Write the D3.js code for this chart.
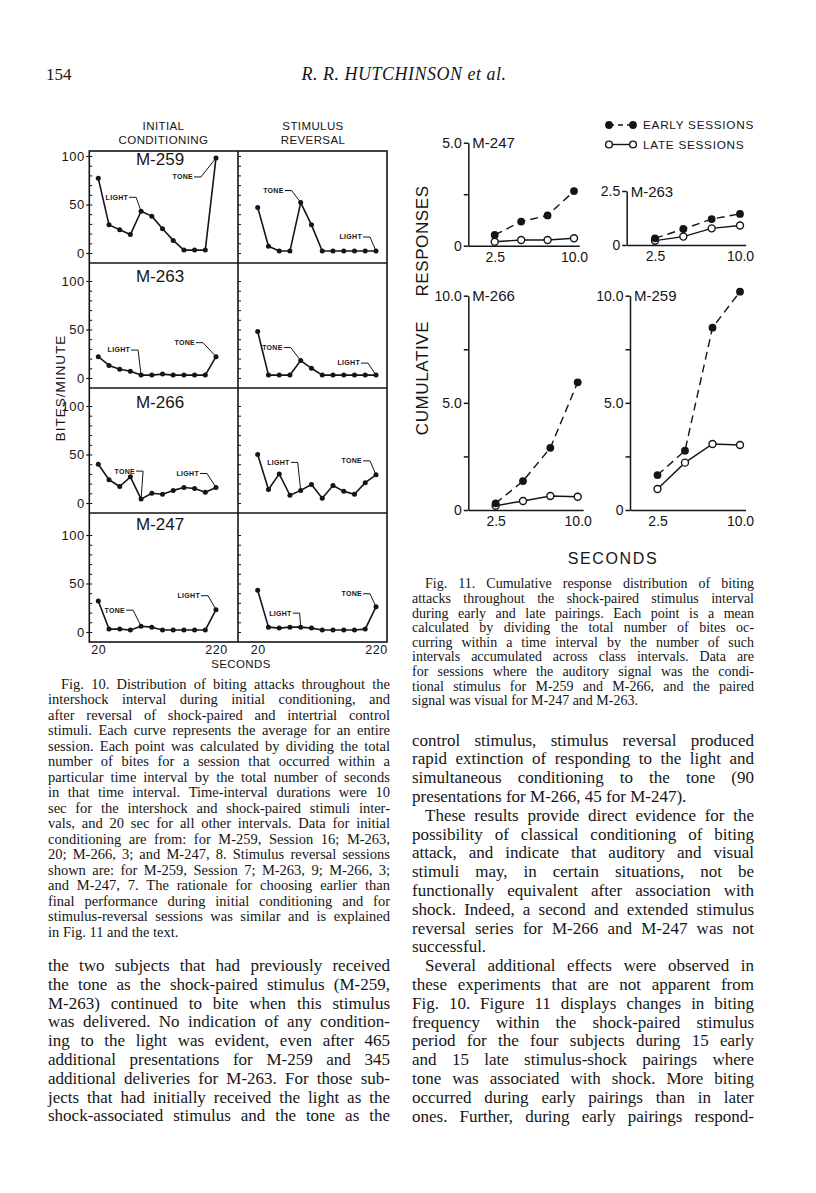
<!DOCTYPE html>
<html>
<head>
<meta charset="utf-8">
<script src="https://cdn.jsdelivr.net/npm/d3@7"></script>
<style>
  body { margin: 0; background: #fff; }
  svg { display: block; }
</style>
</head>
<body>
<svg id="page"></svg>
<script>
// ---- Fig. 10 data (bites/minute per time interval) ----
const fig10Subjects = ["M-259", "M-263", "M-266", "M-247"];
const fig10Seconds = [20, 38.2, 56.4, 74.5, 92.7, 110.9, 129.1, 147.3, 165.5, 183.6, 201.8, 220];
const fig10SecondLabels = [20, 220];
const fig10YLabels = [0, 50, 100];

const initialM259 = [77, 29, 24, 19, 43, 38, 25, 13, 3, 3, 3, 98];
const reversalM259 = [47, 7, 2, 2, 52, 29, 2, 2, 2, 2, 2, 2];
const initialM263 = [22, 13, 9, 7, 3, 3, 4, 3, 3, 3, 3, 22];
const reversalM263 = [48, 3, 3, 3, 18, 10, 3, 3, 3, 3, 3, 3];
const initialM266 = [40, 24, 17, 27, 4, 10, 9, 13, 16, 15, 11, 16];
const reversalM266 = [50, 14, 30, 8, 13, 19, 5, 18, 12, 9, 21, 29];
const initialM247 = [32, 3, 3, 2, 6, 5, 2, 2, 2, 2, 2, 23];
const reversalM247 = [43, 5, 4, 5, 5, 4, 2, 2, 2, 2, 3, 26];

// ---- Fig. 11 data (cumulative responses) ----
const fig11Subjects = ["M-247", "M-263", "M-266", "M-259"];
const fig11Seconds = [2.5, 5.0, 7.5, 10.0];
const fig11XLabels = [2.5, 10.0];
const earlyM247 = [0.52, 1.17, 1.47, 2.65];
const lateM247 = [0.19, 0.28, 0.28, 0.36];
const earlyM263 = [0.31, 0.74, 1.2, 1.44];
const lateM263 = [0.2, 0.39, 0.77, 0.9];
const earlyM266 = [0.31, 1.35, 2.9, 5.96];
const lateM266 = [0.2, 0.42, 0.65, 0.62];
const earlyM259 = [1.63, 2.77, 8.51, 10.19];
const lateM259 = [0.98, 2.21, 3.08, 3.03];

// ---- page text ----
const fig10Caption = [
  "Fig. 10. Distribution of biting attacks throughout the",
  "intershock interval during initial conditioning, and",
  "after reversal of shock-paired and intertrial control",
  "stimuli. Each curve represents the average for an entire",
  "session. Each point was calculated by dividing the total",
  "number of bites for a session that occurred within a",
  "particular time interval by the total number of seconds",
  "in that time interval. Time-interval durations were 10",
  "sec for the intershock and shock-paired stimuli inter-",
  "vals, and 20 sec for all other intervals. Data for initial",
  "conditioning are from: for M-259, Session 16; M-263,",
  "20; M-266, 3; and M-247, 8. Stimulus reversal sessions",
  "shown are: for M-259, Session 7; M-263, 9; M-266, 3;",
  "and M-247, 7. The rationale for choosing earlier than",
  "final performance during initial conditioning and for",
  "stimulus-reversal sessions was similar and is explained",
  "in Fig. 11 and the text."
];
const fig11Caption = [
  "Fig. 11. Cumulative response distribution of biting",
  "attacks throughout the shock-paired stimulus interval",
  "during early and late pairings. Each point is a mean",
  "calculated by dividing the total number of bites oc-",
  "curring within a time interval by the number of such",
  "intervals accumulated across class intervals. Data are",
  "for sessions where the auditory signal was the condi-",
  "tional stimulus for M-259 and M-266, and the paired",
  "signal was visual for M-247 and M-263."
];
const leftBody = [
  "the two subjects that had previously received",
  "the tone as the shock-paired stimulus (M-259,",
  "M-263) continued to bite when this stimulus",
  "was delivered. No indication of any condition-",
  "ing to the light was evident, even after 465",
  "additional presentations for M-259 and 345",
  "additional deliveries for M-263. For those sub-",
  "jects that had initially received the light as the",
  "shock-associated stimulus and the tone as the"
];
const rightBody = [
  "control stimulus, stimulus reversal produced",
  "rapid extinction of responding to the light and",
  "simultaneous conditioning to the tone (90",
  "presentations for M-266, 45 for M-247).",
  "These results provide direct evidence for the",
  "possibility of classical conditioning of biting",
  "attack, and indicate that auditory and visual",
  "stimuli may, in certain situations, not be",
  "functionally equivalent after association with",
  "shock. Indeed, a second and extended stimulus",
  "reversal series for M-266 and M-247 was not",
  "successful.",
  "Several additional effects were observed in",
  "these experiments that are not apparent from",
  "Fig. 10. Figure 11 displays changes in biting",
  "frequency within the shock-paired stimulus",
  "period for the four subjects during 15 early",
  "and 15 late stimulus-shock pairings where",
  "tone was associated with shock. More biting",
  "occurred during early pairings than in later",
  "ones. Further, during early pairings respond-"
];

const INK = "#151515";
const SERIF = "'Liberation Serif', 'DejaVu Serif', serif";
const SANS = "'Liberation Sans', 'DejaVu Sans', sans-serif";

const svg = d3.select("#page")
  .attr("width", 816)
  .attr("height", 1193)
  .attr("viewBox", [0, 0, 816, 1193]);

svg.append("rect").attr("width", 816).attr("height", 1193).attr("fill", "#fff");

// ---- running head ----
svg.append("text")
  .attr("x", 46).attr("y", 80)
  .attr("font-family", SERIF).attr("font-size", 17).attr("fill", INK)
  .text("154");
svg.append("text")
  .attr("x", 404).attr("y", 80)
  .attr("text-anchor", "middle")
  .attr("font-family", SERIF).attr("font-size", 18).attr("font-style", "italic")
  .attr("letter-spacing", 0.5).attr("fill", INK)
  .text("R. R. HUTCHINSON et al.");

// ================= FIG. 10 =================
const F10_LEFT = 89.3, F10_MID = 238, F10_RIGHT = 387, F10_TOP = 151;
const F10_ROW_BOTTOMS = [263, 388, 513, 642];
const F10_TITLE_OFFSETS = [14, 18.5, 19.5, 17];

const fig10Rows = [
  [initialM259, reversalM259],
  [initialM263, reversalM263],
  [initialM266, reversalM266],
  [initialM247, reversalM247]
];

// [row, column, label, point index, kink dx, label dy]
const fig10Notes = [
  [0, 0, "LIGHT", 4, -5, -14], [0, 0, "TONE", 11, -15, 19],
  [0, 1, "TONE", 4, -9, -12], [0, 1, "LIGHT", 11, -6, -14],
  [1, 0, "LIGHT", 4, -3, -25], [1, 0, "TONE", 11, -13, -14],
  [1, 1, "TONE", 4, -10, -13], [1, 1, "LIGHT", 11, -8, -12],
  [2, 0, "TONE", 4, 2, -28], [2, 0, "LIGHT", 11, -9, -14],
  [2, 1, "LIGHT", 4, -3, -28], [2, 1, "TONE", 11, -6, -14],
  [3, 0, "TONE", 4, -8, -16], [3, 0, "LIGHT", 11, -8, -14],
  [3, 1, "LIGHT", 4, -1, -14], [3, 1, "TONE", 11, -6, -13]
];

const xCols = [
  d3.scaleLinear().domain([20, 220]).range([98.3, 216]),
  d3.scaleLinear().domain([20, 220]).range([257.7, 376])
];
const yRows = F10_ROW_BOTTOMS.map(b =>
  d3.scaleLinear().domain([0, 100]).range([b - 10, b - 107]));

const fig10 = svg.append("g").attr("font-family", SANS).attr("fill", INK);

// column headings
[["INITIAL", "CONDITIONING", 163.5], ["STIMULUS", "REVERSAL", 313]].forEach(([a, b, cx]) => {
  const t = fig10.append("text")
    .attr("text-anchor", "middle").attr("font-size", 11.5).attr("letter-spacing", 0.4);
  t.append("tspan").attr("x", cx).attr("y", 129.5).text(a);
  t.append("tspan").attr("x", cx).attr("y", 143.5).text(b);
});

// frame
fig10.append("rect")
  .attr("x", F10_LEFT).attr("y", F10_TOP)
  .attr("width", F10_RIGHT - F10_LEFT).attr("height", F10_ROW_BOTTOMS[3] - F10_TOP)
  .attr("fill", "none").attr("stroke", INK).attr("stroke-width", 1.6);
fig10.append("line")
  .attr("x1", F10_MID).attr("x2", F10_MID).attr("y1", F10_TOP).attr("y2", F10_ROW_BOTTOMS[3])
  .attr("stroke", INK).attr("stroke-width", 1.6);
F10_ROW_BOTTOMS.slice(0, 3).forEach(b => {
  fig10.append("line")
    .attr("x1", F10_LEFT).attr("x2", F10_RIGHT).attr("y1", b).attr("y2", b)
    .attr("stroke", INK).attr("stroke-width", 1.6);
});

fig10Rows.forEach((pair, r) => {
  const y = yRows[r];

  // outside labelled ticks
  const outer = fig10.append("g")
    .attr("transform", `translate(${F10_LEFT},0)`)
    .call(d3.axisLeft(y).tickValues(fig10YLabels).tickSize(3).tickPadding(1.5));
  outer.select(".domain").remove();
  outer.selectAll("line").attr("stroke", INK).attr("stroke-width", 1.2);
  outer.selectAll("text")
    .attr("font-family", SANS).attr("font-size", 13).attr("fill", INK)
    .attr("letter-spacing", 0.5);

  // inside minor ticks on both panels
  [F10_LEFT, F10_MID].forEach(x0 => {
    const inner = fig10.append("g")
      .attr("transform", `translate(${x0},0)`)
      .call(d3.axisRight(y).tickValues(d3.range(0, 101, 10)).tickSize(3).tickFormat(""));
    inner.select(".domain").remove();
    inner.selectAll("line").attr("stroke", INK).attr("stroke-width", 1);
  });

  // subject name
  fig10.append("text")
    .attr("x", 160).attr("y", (r === 0 ? F10_TOP : F10_ROW_BOTTOMS[r - 1]) + F10_TITLE_OFFSETS[r])
    .attr("text-anchor", "middle").attr("font-size", 17)
    .text(fig10Subjects[r]);

  pair.forEach((values, c) => {
    const x = xCols[c];
    const line = d3.line().x((d, i) => x(fig10Seconds[i])).y(d => y(d));
    fig10.append("path")
      .datum(values)
      .attr("d", line)
      .attr("fill", "none").attr("stroke", INK).attr("stroke-width", 1.6)
      .attr("stroke-linejoin", "round");
    fig10.append("g")
      .selectAll("circle")
      .data(values)
      .join("circle")
      .attr("cx", (d, i) => x(fig10Seconds[i]))
      .attr("cy", d => y(d))
      .attr("r", 2.5)
      .attr("fill", INK);
  });
});

// TONE / LIGHT call-outs
fig10Notes.forEach(([r, c, label, idx, kdx, ldy]) => {
  const px = xCols[c](fig10Seconds[idx]);
  const py = yRows[r](fig10Rows[r][c][idx]);
  const kx = px + kdx, ky = py + ldy;
  fig10.append("text")
    .attr("x", kx - 8).attr("y", ky + 2.4)
    .attr("text-anchor", "end").attr("font-size", 7).attr("font-weight", "bold")
    .attr("letter-spacing", 0.3)
    .text(label);
  fig10.append("path")
    .attr("d", d3.line()([[kx - 7, ky], [kx, ky], [px, py]]))
    .attr("fill", "none").attr("stroke", INK).attr("stroke-width", 1);
});

// x labels and axis title
xCols.forEach(x => {
  const ax = fig10.append("g")
    .attr("transform", `translate(0,${F10_ROW_BOTTOMS[3]})`)
    .call(d3.axisBottom(x).tickValues(fig10SecondLabels).tickSize(0).tickPadding(3.5));
  ax.select(".domain").remove();
  ax.selectAll("text")
    .attr("font-family", SANS).attr("font-size", 12.5).attr("fill", INK)
    .attr("letter-spacing", 0.5);
});
fig10.append("text")
  .attr("x", 241).attr("y", 668)
  .attr("text-anchor", "middle").attr("font-size", 11.5).attr("letter-spacing", 0.4)
  .text("SECONDS");
fig10.append("text")
  .attr("transform", "translate(65,388) rotate(-90)")
  .attr("text-anchor", "middle").attr("font-size", 13.5).attr("letter-spacing", 1)
  .text("BITES/MINUTE");

// ================= FIG. 11 =================
const fig11Series = [
  [earlyM247, lateM247],
  [earlyM263, lateM263],
  [earlyM266, lateM266],
  [earlyM259, lateM259]
];
const fig11Layout = [
  { ax: 468.3, y0: 245.7, yTop: 142.7, yMax: 5, ticks: [0, 2.5, 5], labels: [0, 5], x10: 574 },
  { ax: 626.7, y0: 245, yTop: 191, yMax: 2.5, ticks: [0, 2.5], labels: [0, 2.5], x10: 740 },
  { ax: 468.3, y0: 510, yTop: 295.7, yMax: 10, ticks: [0, 2.5, 5, 7.5, 10], labels: [0, 5, 10], x10: 577.7 },
  { ax: 630, y0: 510, yTop: 295.7, yMax: 10, ticks: [0, 2.5, 5, 7.5, 10], labels: [0, 5, 10], x10: 740 }
];
const fmt11 = d => (d === 0 ? "0" : d.toFixed(1));

const fig11 = svg.append("g").attr("font-family", SANS).attr("fill", INK);

fig11Series.forEach(([early, late], p) => {
  const L = fig11Layout[p];
  const k = (L.x10 - L.ax) / 10;
  const x = d3.scaleLinear().domain([0, 10.5]).range([L.ax, L.ax + 10.5 * k]);
  const y = d3.scaleLinear().domain([0, L.yMax]).range([L.y0, L.yTop]);

  const yAx = fig11.append("g")
    .attr("transform", `translate(${L.ax},0)`)
    .call(d3.axisLeft(y).tickValues(L.ticks).tickSize(4.5).tickSizeOuter(0).tickPadding(2)
      .tickFormat(d => (L.labels.includes(d) ? fmt11(d) : "")));
  yAx.selectAll("path, line").attr("stroke", INK).attr("stroke-width", 1.5);
  yAx.selectAll("text").attr("font-family", SANS).attr("font-size", 14).attr("fill", INK);

  const xAx = fig11.append("g")
    .attr("transform", `translate(0,${L.y0})`)
    .call(d3.axisBottom(x).tickValues(fig11XLabels).tickSize(0).tickSizeOuter(0).tickPadding(6)
      .tickFormat(fmt11));
  xAx.select(".domain").attr("stroke", INK).attr("stroke-width", 1.5);
  xAx.selectAll("text").attr("font-family", SANS).attr("font-size", 14).attr("fill", INK);

  fig11.append("text")
    .attr("x", L.ax + 4).attr("y", L.yTop + 5.5)
    .attr("font-size", 15)
    .text(fig11Subjects[p]);

  const line = d3.line().x((d, i) => x(fig11Seconds[i])).y(d => y(d));
  fig11.append("path").datum(late).attr("d", line)
    .attr("fill", "none").attr("stroke", INK).attr("stroke-width", 1.4);
  fig11.append("path").datum(early).attr("d", line)
    .attr("fill", "none").attr("stroke", INK).attr("stroke-width", 1.4)
    .attr("stroke-dasharray", "8,5");

  fig11.append("g").selectAll("circle").data(late).join("circle")
    .attr("cx", (d, i) => x(fig11Seconds[i])).attr("cy", d => y(d))
    .attr("r", 3.5).attr("fill", "#fff").attr("stroke", INK).attr("stroke-width", 1.4);
  fig11.append("g").selectAll("circle").data(early).join("circle")
    .attr("cx", (d, i) => x(fig11Seconds[i])).attr("cy", d => y(d))
    .attr("r", 3.9).attr("fill", INK);
});

// legend
const legend = fig11.append("g");
[["EARLY SESSIONS", 125, true], ["LATE SESSIONS", 144.5, false]].forEach(([label, ly, filled]) => {
  legend.append("line")
    .attr("x1", 609).attr("x2", 633).attr("y1", ly).attr("y2", ly)
    .attr("stroke", INK).attr("stroke-width", 1.4)
    .attr("stroke-dasharray", filled ? "5,4" : null);
  [609, 633].forEach(cx => {
    legend.append("circle")
      .attr("cx", cx).attr("cy", ly).attr("r", filled ? 3.9 : 3.4)
      .attr("fill", filled ? INK : "#fff")
      .attr("stroke", filled ? "none" : INK).attr("stroke-width", 1.4);
  });
  legend.append("text")
    .attr("x", 643).attr("y", ly + 4.3)
    .attr("font-size", 11.8).attr("letter-spacing", 0.7)
    .text(label);
});

fig11.append("text")
  .attr("transform", "translate(428,378) rotate(-90)")
  .attr("text-anchor", "middle").attr("font-size", 17).attr("letter-spacing", 0.6)
  .text("CUMULATIVE");
fig11.append("text")
  .attr("transform", "translate(428,241) rotate(-90)")
  .attr("text-anchor", "middle").attr("font-size", 17).attr("letter-spacing", 0.6)
  .text("RESPONSES");
fig11.append("text")
  .attr("x", 613).attr("y", 564)
  .attr("text-anchor", "middle").attr("font-size", 16).attr("letter-spacing", 1.6)
  .text("SECONDS");

// ================= justified text blocks =================
function setLines(lines, opts) {
  const g = svg.append("g")
    .attr("font-family", SERIF).attr("font-size", opts.size).attr("fill", INK);
  lines.forEach((line, i) => {
    const indent = opts.indent.includes(i) ? opts.indentPx : 0;
    const ragged = opts.ragged.includes(i);
    const words = line.split(" ");
    const baseline = opts.y + i * opts.lead;
    const row = g.append("g");
    const nodes = words.map(w => row.append("text").attr("y", baseline).text(w));
    const widths = nodes.map(n => n.node().getComputedTextLength());
    const total = d3.sum(widths);
    const avail = opts.width - indent;
    const gaps = Math.max(1, words.length - 1);
    let gap = ragged ? opts.size * 0.25 : (avail - total) / gaps;
    let scale = 1;
    if (gap < opts.size * 0.16) {
      gap = opts.size * 0.16;
      scale = Math.min(1, avail / (total + gap * gaps));
    }
    let cx = 0;
    nodes.forEach((n, k) => { n.attr("x", cx); cx += widths[k] + gap; });
    row.attr("transform", `translate(${opts.x + indent},0) scale(${scale},1)`);
  });
}

setLines(fig10Caption, {
  x: 48, width: 342, y: 688.5, lead: 15.5, size: 14.5,
  indent: [0], indentPx: 13, ragged: [16]
});
setLines(fig11Caption, {
  x: 412, width: 342, y: 588.3, lead: 14.6, size: 14,
  indent: [0], indentPx: 13, ragged: [8]
});
setLines(leftBody, {
  x: 48, width: 342, y: 971, lead: 18.8, size: 17,
  indent: [], indentPx: 13, ragged: []
});
setLines(rightBody, {
  x: 412, width: 342, y: 745.6, lead: 18.8, size: 17,
  indent: [4, 12], indentPx: 13, ragged: [3, 11]
});
</script>
</body>
</html>
